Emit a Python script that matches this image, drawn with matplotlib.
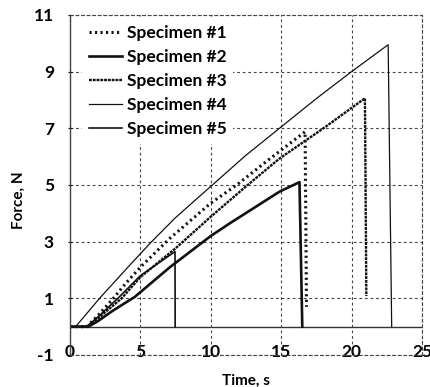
import numpy as np
import matplotlib
matplotlib.use("Agg")
import matplotlib.pyplot as plt

plt.rcParams['font.family'] = ['Lato', 'DejaVu Sans']
plt.rcParams['font.weight'] = 'bold'
plt.rcParams['axes.unicode_minus'] = False

# Specimen #1 (heavy dotted)
t1 = [0, 1.2, 2.0, 3.08, 4.0, 5.0, 7.1, 10.0, 11.84, 14.0, 16.7, 16.8]
f1 = [0, 0, 0.4, 1.0, 1.55, 2.1, 3.12, 4.36, 5.0, 5.85, 6.88, 0.7]
# Specimen #2 (thick solid)
t2 = [0, 1.3, 2.0, 3.0, 4.6, 7.1, 10.0, 11.36, 14.9, 16.3, 16.5]
f2 = [0, 0, 0.2, 0.55, 1.05, 2.1, 3.2, 3.65, 4.77, 5.1, 0]
# Specimen #3 (fine dotted)
t3 = [0, 1.2, 2.0, 3.67, 5.0, 7.46, 10.0, 12.5, 14.9, 18.0, 20.95, 21.05]
f3 = [0, 0, 0.3, 1.0, 1.75, 2.75, 3.88, 4.95, 5.94, 7.0, 8.06, 1.08]
# Specimen #4 (thin solid)
t4 = [0, 0.4, 2.1, 4.3, 5.8, 7.5, 10.0, 12.5, 15.0, 17.5, 20.0, 22.6, 22.85]
f4 = [0, 0, 1.0, 2.2, 3.0, 3.85, 4.95, 6.05, 7.05, 8.05, 9.0, 9.95, 0]
# Specimen #5 (solid)
t5 = [0, 1.2, 2.0, 3.4, 5.0, 7.46, 7.47]
f5 = [0, 0, 0.35, 1.0, 1.8, 2.65, 0]

labels = ['Specimen #1', 'Specimen #2', 'Specimen #3', 'Specimen #4', 'Specimen #5']

fig = plt.figure(figsize=(4.31, 3.87), dpi=100)
ax = fig.add_axes([0.1624, 0.0827, 0.8166, 0.8786])

col = '#111111'
ax.plot(t1, f1, color=col, lw=2.2, linestyle=(0, (0.7, 1.1)), label=labels[0])
ax.plot(t2, f2, color=col, lw=1.9, label=labels[1])
ax.plot(t3, f3, color=col, lw=1.7, linestyle=(0, (1.2, 0.4)), label=labels[2])
ax.plot(t4, f4, color=col, lw=0.9, label=labels[3])
ax.plot(t5, f5, color=col, lw=1.2, label=labels[4])

ax.axhline(0, color='#333333', lw=1.0, zorder=1)

ax.set_xlim(0, 25)
ax.set_ylim(-1, 11)
ax.set_xticks([0, 5, 10, 15, 20, 25])
ax.set_yticks([-1, 1, 3, 5, 7, 9, 11])
ax.grid(True, color='#444444', linestyle=(0, (2.5, 2.5)), lw=0.8)
for s in ['top', 'right', 'bottom']:
    ax.spines[s].set_linestyle((0, (2.5, 2.5)))
    ax.spines[s].set_color('#444444')
    ax.spines[s].set_linewidth(0.8)
ax.spines['left'].set_color('#444444')
ax.spines['left'].set_linewidth(1.0)

ax.tick_params(axis='x', length=0, pad=-8, labelsize=12.5)
ax.tick_params(axis='y', length=3, direction='inout', labelsize=12.5, pad=10)

ax.set_xlabel('Time, s', fontsize=11, fontweight='bold')
ax.set_ylabel('Force, N', fontsize=11, fontweight='bold')
ax.xaxis.set_label_coords(0.5, -0.055)
ax.yaxis.set_label_coords(-0.125, 0.455)

leg = ax.legend(loc='upper left', bbox_to_anchor=(0.025, 1.0), frameon=True,
                handlelength=1.9, handletextpad=0.25, labelspacing=0.45, borderaxespad=0.2,
                borderpad=0.4, prop={'weight': 'bold', 'size': 12.5})
leg.get_frame().set_facecolor('white')
leg.get_frame().set_edgecolor('none')
leg.get_frame().set_alpha(1)

fig.savefig('out.png', dpi=100)
